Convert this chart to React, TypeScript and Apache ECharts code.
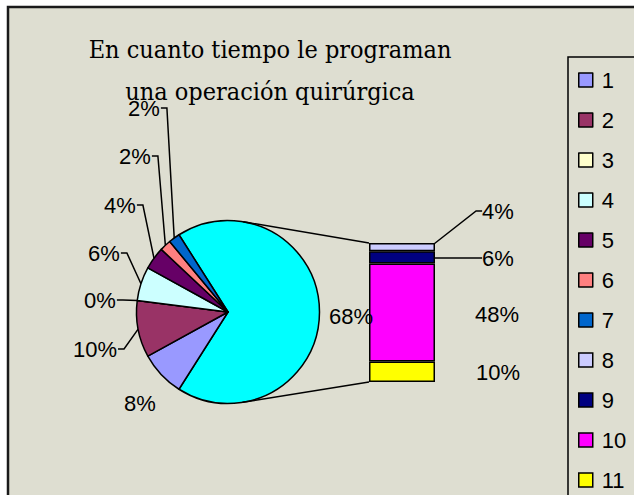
import React, { useEffect, useRef } from "react";
import * as echarts from "echarts";

const TITLE = "En cuanto tiempo le programan\nuna operación quirúrgica";

// Main pie (first slice = combined "other" group shown in the bar)
const pieNames = ["Otros", "1", "2", "3", "4", "5", "6", "7"];
const pieValues = [68, 8, 10, 0, 6, 4, 2, 2];
const pieColors = ["#00FFFF", "#9999FF", "#993366", "#FFFFCC", "#CCFFFF", "#660066", "#FF8080", "#0066CC"];

// Secondary stacked bar (bottom to top)
const barNames = ["11", "10", "9", "8"];
const barValues = [10, 48, 6, 4];
const barColors = ["#FFFF00", "#FF00FF", "#000080", "#CCCCFF"];

const legendNames = ["1", "2", "3", "4", "5", "6", "7", "8", "9", "10", "11"];

// label placements (pixels)
const pieLabelPos = [[351, 316], [140, 403], [95, 349], [100, 300], [104, 253], [120, 205], [135, 156], [144, 108]];
const pieLabelLine = [false, false, true, true, true, true, true, true];
const barLabelPos = [[498, 372], [497, 314], [498, 258], [498, 211]];
const barLabelLine = [false, false, true, true];

const PIE_CENTER = [228, 312];
const PIE_R = 91.5;
const GRID = { left: 369, top: 243, width: 66, height: 139 };
const BG = "#DEDED1";
const SANS = "'Liberation Sans', Arial, sans-serif";
const TICK = 6;

export default function App() {
  const ref = useRef<HTMLDivElement>(null);
  useEffect(() => {
    if (!ref.current) return;
    const chart = echarts.init(ref.current, null, { renderer: "svg" });
    const total = barValues.reduce((a, b) => a + b, 0);
    const option: any = {
      animation: false,
      backgroundColor: "#ffffff",
      title: {
        text: TITLE,
        left: 270,
        top: 28,
        textAlign: "center",
        padding: 0,
        textStyle: {
          fontFamily: "'DejaVu Serif Condensed', 'DejaVu Serif', serif",
          fontSize: 25,
          fontWeight: "normal",
          color: "#000",
          lineHeight: 42,
        },
      },
      legend: {
        orient: "vertical",
        left: 568,
        top: 57,
        height: 800,
        padding: [12, 60, 40, 10],
        borderColor: "#000",
        borderWidth: 1.5,
        itemGap: 18,
        itemWidth: 14,
        itemHeight: 14,
        icon: "rect",
        selectedMode: false,
        data: legendNames,
        itemStyle: { borderColor: "#000", borderWidth: 1.5 },
        textStyle: { fontFamily: SANS, fontSize: 22, color: "#000", lineHeight: 20, padding: [0, 0, 0, 4] },
      },
      graphic: [
        {
          id: "bg",
          type: "rect",
          z: 0,
          silent: true,
          shape: { x: 8, y: 7, width: 700, height: 600 },
          style: { fill: BG, stroke: "#1a1a1a", lineWidth: 2.5 },
        },
      ],
      grid: { left: GRID.left, top: GRID.top, width: GRID.width, height: GRID.height },
      xAxis: { type: "category", data: ["otros"], show: false },
      yAxis: { type: "value", min: 0, max: total, show: false },
      series: [
        {
          type: "pie",
          center: PIE_CENTER,
          radius: PIE_R,
          startAngle: 122.4,
          clockwise: true,
          avoidLabelOverlap: false,
          legendHoverLink: false,
          emphasis: { disabled: true },
          itemStyle: { borderColor: "#000", borderWidth: 1.5 },
          label: {
            show: true,
            position: "outside",
            formatter: (p: any) => `${p.value}%`,
            fontFamily: SANS,
            fontSize: 22,
            color: "#000",
          },
          labelLine: { show: true, length: 10, length2: 6, minTurnAngle: 0, lineStyle: { color: "#000", width: 1.5 } },
          labelLayout: (p: any) => {
            const [lx, ly] = pieLabelPos[p.dataIndex];
            const res: any = { x: lx, y: ly, align: "center", verticalAlign: "middle" };
            if (pieLabelLine[p.dataIndex] && p.labelLinePoints && p.labelLinePoints.length) {
              const right = lx + p.labelRect.width / 2 + 1;
              res.labelLinePoints = [p.labelLinePoints[0], [right + TICK, ly], [right, ly]];
            }
            return res;
          },
          data: pieNames.map((n, i) => ({
            name: n,
            value: pieValues[i],
            itemStyle: { color: pieColors[i] },
            labelLine: { show: pieLabelLine[i] },
          })),
        },
        ...barNames.map((n, i) => ({
          type: "bar",
          name: n,
          stack: "otros",
          barWidth: "100%",
          data: [barValues[i]],
          itemStyle: { color: barColors[i], borderColor: "#000", borderWidth: 1.5 },
          emphasis: { disabled: true },
          label: {
            show: true,
            formatter: (p: any) => `${p.value}%`,
            fontFamily: SANS,
            fontSize: 22,
            color: "#000",
          },
          labelLine: { show: barLabelLine[i], length2: 6, minTurnAngle: 0, lineStyle: { color: "#000", width: 1.5 } },
          labelLayout: { x: barLabelPos[i][0], y: barLabelPos[i][1], align: "center", verticalAlign: "middle" },
        })),
      ],
    };
    chart.setOption(option);

    // connector lines: tangents from pie circle to the bar's corners
    const xL = GRID.left;
    const yT = chart.convertToPixel({ yAxisIndex: 0 }, total) as number;
    const yB = chart.convertToPixel({ yAxisIndex: 0 }, 0) as number;
    const tangent = (px: number, py: number, sign: number) => {
      const dx = px - PIE_CENTER[0];
      const dy = py - PIE_CENTER[1];
      const d = Math.sqrt(dx * dx + dy * dy);
      const th = Math.atan2(dy, dx) + sign * Math.acos(PIE_R / d);
      return [PIE_CENTER[0] + PIE_R * Math.cos(th), PIE_CENTER[1] + PIE_R * Math.sin(th)];
    };
    const t1 = tangent(xL, yT, -1);
    const t2 = tangent(xL, yB, 1);
    chart.setOption({
      graphic: [
        { id: "c1", type: "line", z: 5, silent: true, shape: { x1: t1[0], y1: t1[1], x2: xL, y2: yT }, style: { stroke: "#000", lineWidth: 1.5 } },
        { id: "c2", type: "line", z: 5, silent: true, shape: { x1: t2[0], y1: t2[1], x2: xL, y2: yB }, style: { stroke: "#000", lineWidth: 1.5 } },
      ],
    });
    return () => chart.dispose();
  }, []);
  return (
    <div
      ref={ref}
      style={{ position: "absolute", left: 0, top: 0, width: 634, height: 495 }}
    />
  );
}
